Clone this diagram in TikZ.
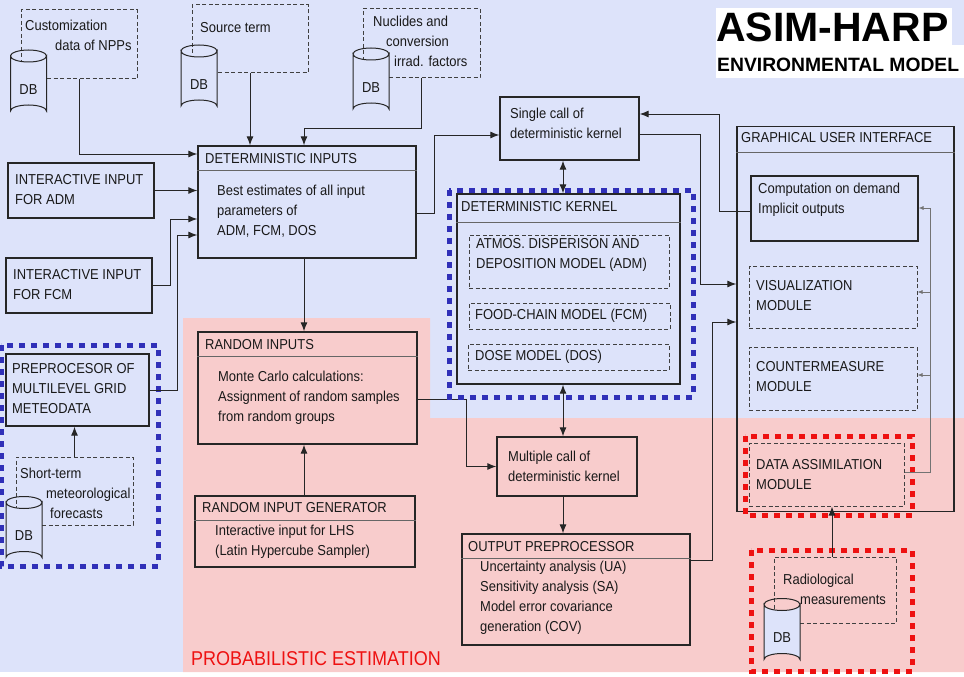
\documentclass[tikz,border=0pt]{standalone}
\usepackage{fontspec}
\setmainfont{Liberation Sans}[FakeStretch=0.9]
\newfontfamily\ttlfont{Liberation Sans}
\usetikzlibrary{arrows.meta}
\definecolor{lav}{HTML}{DDE3FA}
\definecolor{pnk}{HTML}{F8CCCC}
\definecolor{dblue}{HTML}{3030B8}
\definecolor{dred}{HTML}{EE1111}
\begin{document}
\begin{tikzpicture}[x=1pt,y=-1pt,
  box/.style={draw=black!85, line width=1.3pt, minimum width=#1, inner sep=0},
  dbox/.style={draw=black!75, line width=1pt, dash pattern=on 4pt off 2.5pt, inner sep=0},
  bdot/.style={draw=dblue, line width=5pt, dash pattern=on 6pt off 6pt},
  rdot/.style={draw=dred, line width=5pt, dash pattern=on 6pt off 6pt},
  txt/.style={anchor=north west, inner sep=0, yshift=-2pt, align=left, font=\fontsize{14.4}{20}\selectfont, text=black!90},
  arr/.style={line width=1pt, draw=black!85, -{Latex[length=9pt,width=7pt]}},
  darr/.style={line width=1pt, draw=black!85, {Latex[length=9pt,width=7pt]}-{Latex[length=9pt,width=7pt]}},
  fb/.style={line width=0.7pt, draw=black!55, -{Latex[length=5pt,width=4pt]}},
  ln/.style={line width=1pt, draw=black!85},
  dbc/.pic={
    \path[draw=black!85, line width=1pt, fill=lav] (-18,-27.5) -- (-18,27.5) arc[start angle=180,end angle=360,x radius=18,y radius=6] -- (18,-27.5) arc[start angle=0,end angle=180,x radius=18,y radius=6] -- cycle;
    \draw[black!85, line width=1pt] (-18,-27.5) arc[start angle=180,end angle=360,x radius=18,y radius=6];
    \node[font=\fontsize{14.4}{16}\selectfont, text=black!90] at (0,6) {DB};
  }]
\useasboundingbox (0,0) rectangle (964,677);
% backgrounds
\fill[lav] (0,0) rectangle (964,672);
\fill[pnk] (183,318) -- (430,318) -- (430,418) -- (964,418) -- (964,672) -- (183,672) -- cycle;
\fill[white] (716,8) rectangle (952,45);
\fill[white] (716,45) rectangle (964,78);
\node[anchor=base west, inner sep=0, font=\ttlfont\bfseries\fontsize{41}{41}\selectfont] (t1) at (716,42) {ASIM-HARP};
\node[anchor=base west, inner sep=0, font=\ttlfont\bfseries\fontsize{19.3}{20}\selectfont] (t2) at (717,71) {ENVIRONMENTAL MODEL};
\node[anchor=base west, inner sep=0, font=\fontsize{20}{20}\selectfont, text=dred] (pe) at (191,665) {PROBABILISTIC ESTIMATION};

% top databases
\node[dbox, minimum width=116pt, minimum height=69pt] (s1) at (79,44.5) {};
\pic at (28.5,83.5) {dbc};
\node[txt] (s1t) at (25,18) {Customization\\\hspace*{30pt}data of NPPs};
\node[dbox, minimum width=116pt, minimum height=68pt] (s2) at (250,39) {};
\pic at (199,78.5) {dbc};
\node[txt] (s2t) at (200,20) {Source term};
\node[dbox, minimum width=117pt, minimum height=69pt] (s3) at (421.5,43.5) {};
\pic at (371,81.5) {dbc};
\node[txt] (s3t) at (373,14) {Nuclides and\\\hspace*{13pt}conversion\\\hspace*{21pt}irrad. factors};

% deterministic inputs
\node[box=218pt, minimum height=112pt] (di) at (307,202) {};
\draw[black!60, line width=0.8pt] (di.west |- 0,170) -- (di.east |- 0,170);
\node[txt] (dit) at (205,151) {DETERMINISTIC INPUTS};
\node[txt] (dib) at (217,183) {Best estimates of all input\\parameters of\\ADM, FCM, DOS};

\node[box=146pt, minimum height=55pt] (ia) at (81,190.5) {};
\node[txt] (iat) at (15,172) {INTERACTIVE INPUT\\FOR ADM};
\node[box=146pt, minimum height=55pt] (if) at (79,285.5) {};
\node[txt] (ift) at (13,267) {INTERACTIVE INPUT\\FOR FCM};

% preprocessor group
\node[box=143pt, minimum height=72pt] (pp) at (77.5,390) {};
\node[txt] (ppt) at (12,361) {PREPROCESOR OF\\MULTILEVEL GRID\\METEODATA};
\node[dbox, minimum width=117pt, minimum height=68pt] (s4) at (74.5,491) {};
\pic at (24,530) {dbc};
\node[txt] (s4t) at (20,466) {Short-term\\\hspace*{26pt}meteorological\\\hspace*{30pt}forecasts};
\draw[bdot] (1,345) rectangle (158,566);

% arrows into DI
\draw[arr] (s1.south) |- (di.west |- 0,154);
\draw[arr] (s2.south) -- (s2.south |- di.north);
\draw[arr] (s3.south) -- ++(0,50) -| ([xshift=-3pt]di.north);
\draw[arr] (ia.east) -- (di.west |- ia.east);
\draw[arr] (if.east) -- ++(18,0) |- (di.west |- 0,219);
\draw[arr] (pp.east) -- ++(28,0) |- (di.west |- 0,235);
\draw[arr] (s4.north) -- (s4.north |- pp.south);

% random inputs
\node[box=219pt, minimum height=112pt] (ri) at (307.5,388) {};
\draw[black!60, line width=0.8pt] (ri.west |- 0,356) -- (ri.east |- 0,356);
\node[txt] (rit) at (205,337) {RANDOM INPUTS};
\node[txt] (rib) at (218,369) {Monte Carlo calculations:\\Assignment of random samples\\from random groups};
\draw[arr] ([xshift=-3pt]di.south) -- ([xshift=-3pt]di.south |- ri.north);

\node[box=220pt, minimum height=71pt] (rg) at (305,531.5) {};
\draw[black!60, line width=0.8pt] (rg.west |- 0,520) -- (rg.east |- 0,520);
\node[txt] (rgt) at (202,500) {RANDOM INPUT GENERATOR};
\node[txt] (rgb) at (215,523) {Interactive input for LHS\\(Latin Hypercube Sampler)};
\draw[arr] (rg.north -| 304,0) -- (304,0 |- ri.south);

% multiple call
\node[box=140pt, minimum height=59pt] (mc) at (567,466.5) {};
\node[txt] (mct) at (508,449) {Multiple call of\\deterministic kernel};
\draw[arr] (ri.east |- 0,399) -- (466,399) |- (mc.west);

% output preprocessor
\node[box=228pt, minimum height=111pt] (op) at (576,589.5) {};
\draw[black!60, line width=0.8pt] (op.west |- 0,558) -- (op.east |- 0,558);
\node[txt] (opt) at (468,539) {OUTPUT PREPROCESSOR};
\node[txt] (opb) at (480,559) {Uncertainty analysis (UA)\\Sensitivity analysis (SA)\\Model error covariance\\generation (COV)};
\draw[arr] (mc.south -| 563,0) -- (563,0 |- op.north);

% single call
\node[box=139pt, minimum height=63pt] (sc) at (569.5,128.5) {};
\node[txt] (sct) at (510,106) {Single call of\\deterministic kernel};
\draw[arr] (di.east |- 0,213) -- (434,213) |- (sc.west |- 0,135);

% deterministic kernel
\node[box=223pt, minimum height=190pt] (dk) at (568.5,289) {};
\draw[black!60, line width=0.8pt] (dk.west |- 0,222) -- (dk.east |- 0,222);
\node[txt] (dkt) at (461,199) {DETERMINISTIC KERNEL};
\node[dbox, minimum width=200pt, minimum height=53pt] (adm) at (569,261.5) {};
\node[txt] (admt) at (476,236) {ATMOS. DISPERISON AND\\DEPOSITION MODEL (ADM)};
\node[dbox, minimum width=201pt, minimum height=26pt] (fcm) at (569.5,316) {};
\node[txt, anchor=west, yshift=2pt] (fcmt) at (475,316) {FOOD-CHAIN MODEL (FCM)};
\node[dbox, minimum width=201pt, minimum height=26pt] (dos) at (568.5,357) {};
\node[txt, anchor=west, yshift=2pt] (dost) at (475,357) {DOSE MODEL (DOS)};
\draw[bdot] (449,190) rectangle (693,397);
\draw[darr] (sc.south -| 563,0) -- (563,0 |- dk.north);
\draw[darr] (dk.south -| 563,0) -- (563,0 |- mc.north);

% GUI
\node[box=217pt, minimum height=385pt] (gui) at (845.5,319) {};
\draw[black!60, line width=0.8pt] (gui.west |- 0,152) -- (gui.east |- 0,152);
\node[txt] (guit) at (741,130) {GRAPHICAL USER INTERFACE};
\node[box=167pt, minimum height=65pt, line width=1.1pt] (cd) at (834.5,208.5) {};
\node[txt] (cdt) at (758,181) {Computation on demand\\Implicit outputs};
\node[dbox, minimum width=168pt, minimum height=62pt] (vm) at (833,297) {};
\node[txt] (vmt) at (756,278) {VISUALIZATION\\MODULE};
\node[dbox, minimum width=168pt, minimum height=63pt] (cm) at (833,378.5) {};
\node[txt] (cmt) at (756,359) {COUNTERMEASURE\\MODULE};
\node[dbox, minimum width=155pt, minimum height=63pt] (da) at (826.5,474.5) {};
\node[txt] (dat) at (756,457) {DATA ASSIMILATION\\MODULE};
\draw[rdot] (745,436) rectangle (912,515);

\draw[ln] (cd.west |- 0,211) -- (719,211) -- (719,114);
\draw[arr] (719,114) -- (sc.east |- 0,114);
\draw[arr] (sc.east |- 0,134) -- (700,134) |- (gui.west |- 0,284);
\draw[arr] (op.east |- 0,560) -- (712,560) |- (gui.west |- 0,322);

\draw[black!55, line width=0.7pt] (da.east |- 0,472) -- (930,472) -- (930,208);
\draw[fb] (930,208) -- (cd.east |- 0,208);
\draw[fb] (930,292) -- (vm.east |- 0,292);
\draw[fb] (930,375) -- (cm.east |- 0,375);

% radiological
\node[dbox, minimum width=122pt, minimum height=66pt] (s5) at (835,590) {};
\pic at (782,632) {dbc};
\node[txt] (s5t) at (783,572) {Radiological\\\hspace*{17pt}measurements};
\draw[rdot] (751,550) rectangle (912,671);
\draw[arr] (s5.north -| 832,0) -- (832,0 |- da.south);
\end{tikzpicture}
\end{document}
